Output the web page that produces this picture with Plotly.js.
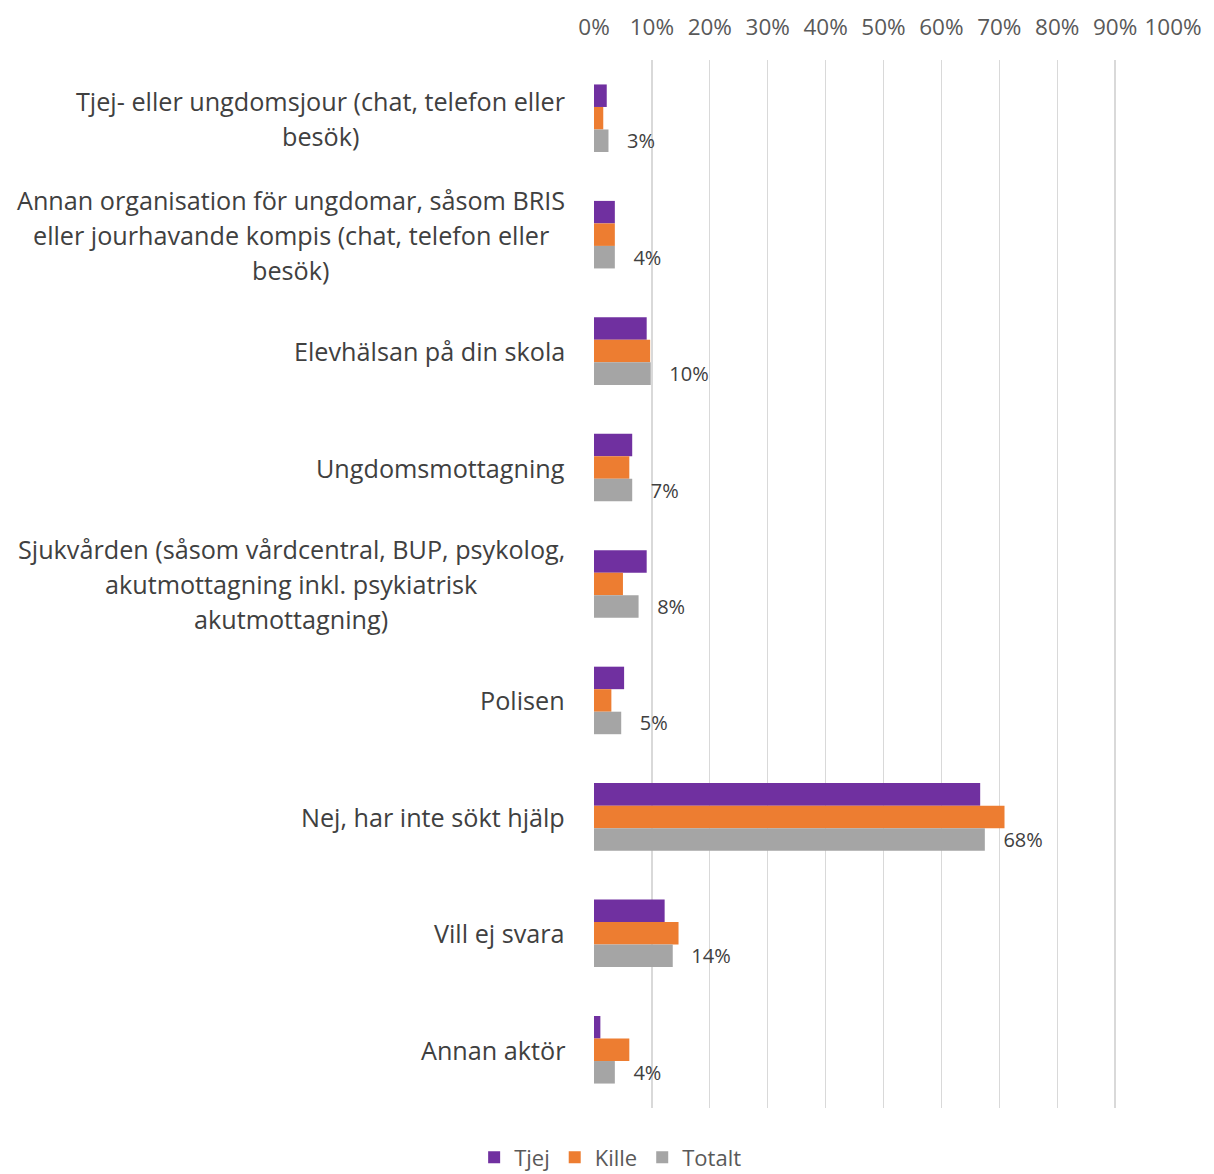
<!DOCTYPE html>
<html>
<head>
<meta charset="utf-8">
<script src="https://cdn.plot.ly/plotly-3.0.1.min.js"></script>
<style>html,body{margin:0;padding:0;background:#fff;}#chart{width:1214px;height:1174px;}</style>
</head>
<body>
<div id="chart"></div>
<script>
const categories = [
  "Tjej- eller ungdomsjour (chat, telefon eller besök)",
  "Annan organisation för ungdomar, såsom BRIS eller jourhavande kompis (chat, telefon eller besök)",
  "Elevhälsan på din skola",
  "Ungdomsmottagning",
  "Sjukvården (såsom vårdcentral, BUP, psykolog, akutmottagning inkl. psykiatrisk akutmottagning)",
  "Polisen",
  "Nej, har inte sökt hjälp",
  "Vill ej svara",
  "Annan aktör"
];
const categoryLines = [
  ["Tjej- eller ungdomsjour (chat, telefon eller", "besök)"],
  ["Annan organisation för ungdomar, såsom BRIS", "eller jourhavande kompis (chat, telefon eller", "besök)"],
  ["Elevhälsan på din skola"],
  ["Ungdomsmottagning"],
  ["Sjukvården (såsom vårdcentral, BUP, psykolog,", "akutmottagning inkl. psykiatrisk", "akutmottagning)"],
  ["Polisen"],
  ["Nej, har inte sökt hjälp"],
  ["Vill ej svara"],
  ["Annan aktör"]
];
const tjej   = [2.2, 3.6, 9.1, 6.6, 9.1, 5.2, 66.7, 12.2, 1.1];
const kille  = [1.6, 3.6, 9.7, 6.1, 5.0, 3.0, 70.9, 14.6, 6.1];
const totalt = [2.5, 3.6, 9.8, 6.6, 7.7, 4.7, 67.5, 13.6, 3.6];
const totaltLabels = ["3%", "4%", "10%", "7%", "8%", "5%", "68%", "14%", "4%"];
const tickVals = [0, 10, 20, 30, 40, 50, 60, 70, 80, 90, 100];
const tickText = ["0%", "10%", "20%", "30%", "40%", "50%", "60%", "70%", "80%", "90%", "100%"];

const FONT = "Open Sans, sans-serif";
const LABEL_SIZE = 25.2;
const LINE_H = 35;

// measure widest line for centered multi-line labels
const cv = document.createElement("canvas").getContext("2d");
cv.font = LABEL_SIZE + "px 'Open Sans'";
const annotations = [];
categories.forEach((cat, i) => {
  const lines = categoryLines[i];
  const maxW = Math.max(...lines.map(l => cv.measureText(l).width));
  const n = lines.length;
  lines.forEach((ln, j) => {
    annotations.push({
      xref: "paper", yref: "y", x: 0, y: cat,
      xanchor: "center", yanchor: "middle",
      xshift: -29 - maxW / 2,
      yshift: ((n - 1) / 2 - j) * LINE_H,
      text: ln, showarrow: false,
      font: {family: FONT, size: LABEL_SIZE, color: "#404040"}
    });
  });
});

const mk = (name, vals, color) => ({
  type: "bar", orientation: "h", name: name,
  x: vals, y: categories,
  marker: {color: color},
  hoverinfo: "x+name"
});
const tTjej = mk("Tjej", tjej, "#7030A0");
const tKille = mk("Kille", kille, "#ED7D31");
const tTot = mk("Totalt", totalt, "#A5A5A5");
tTot.text = totaltLabels;
tTot.texttemplate = "\u00a0\u00a0\u00a0%{text}";
tTot.textposition = "outside";
tTot.constraintext = "none";
tTot.cliponaxis = false;
tTot.textfont = {family: FONT, size: 20, color: "#404040"};

const layout = {
  width: 1214, height: 1174,
  margin: {l: 594, r: 41, t: 60, b: 66},
  paper_bgcolor: "#fff", plot_bgcolor: "#fff",
  barmode: "group", bargap: 0.42, bargroupgap: 0,
  font: {family: FONT, color: "#595959"},
  xaxis: {
    side: "top", range: [0, 100], tickvals: tickVals, ticktext: tickText,
    showgrid: true, gridcolor: "#D9D9D9", gridwidth: 1.3, zeroline: false,
    showline: false, ticks: "", ticklabelstandoff: 20,
    tickfont: {family: FONT, size: 22.5, color: "#595959"},
    fixedrange: true
  },
  yaxis: {
    type: "category", autorange: "reversed", showticklabels: false,
    showgrid: false, zeroline: false, showline: false, ticks: "", fixedrange: true
  },
  showlegend: true,
  legend: {
    orientation: "h", xref: "container", yref: "container",
    x: 0.503, xanchor: "center", y: 0.014, yanchor: "middle",
    font: {family: FONT, size: 22, color: "#595959"},
    itemwidth: 30, traceorder: "normal"
  },
  annotations: annotations
};
Plotly.newPlot("chart", [tTjej, tKille, tTot], layout, {displayModeBar: false, staticPlot: true});
</script>
</body>
</html>
